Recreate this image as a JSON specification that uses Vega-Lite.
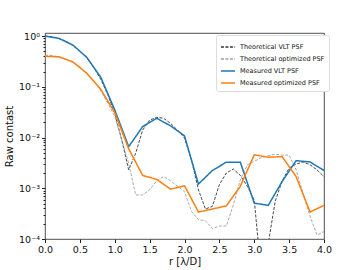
{
  "$schema": "https://vega.github.io/schema/vega-lite/v6.json",
  "width": 279,
  "height": 206,
  "autosize": {"type": "none"},
  "padding": {"left": 45, "top": 33, "right": 36, "bottom": 31},
  "background": "white",
  "config": {
    "font": "DejaVu Sans",
    "view": {"stroke": "#222", "strokeWidth": 0.8},
    "axis": {"grid": false, "domain": false, "tickColor": "#222", "labelColor": "#111", "titleColor": "#111", "labelFont": "DejaVu Sans", "titleFont": "DejaVu Sans", "titleFontWeight": "normal"}
  },
  "data": {"values": [
    {"s": "Theoretical VLT PSF", "r": 0.0, "c": 1.0},
    {"s": "Theoretical VLT PSF", "r": 0.1, "c": 0.97},
    {"s": "Theoretical VLT PSF", "r": 0.2, "c": 0.9},
    {"s": "Theoretical VLT PSF", "r": 0.3, "c": 0.79},
    {"s": "Theoretical VLT PSF", "r": 0.4, "c": 0.65},
    {"s": "Theoretical VLT PSF", "r": 0.5, "c": 0.51},
    {"s": "Theoretical VLT PSF", "r": 0.6, "c": 0.37},
    {"s": "Theoretical VLT PSF", "r": 0.7, "c": 0.24},
    {"s": "Theoretical VLT PSF", "r": 0.8, "c": 0.14},
    {"s": "Theoretical VLT PSF", "r": 0.9, "c": 0.07},
    {"s": "Theoretical VLT PSF", "r": 1.0, "c": 0.03},
    {"s": "Theoretical VLT PSF", "r": 1.1, "c": 0.009},
    {"s": "Theoretical VLT PSF", "r": 1.2, "c": 0.0023},
    {"s": "Theoretical VLT PSF", "r": 1.3, "c": 0.0049},
    {"s": "Theoretical VLT PSF", "r": 1.4, "c": 0.014},
    {"s": "Theoretical VLT PSF", "r": 1.5, "c": 0.022},
    {"s": "Theoretical VLT PSF", "r": 1.6, "c": 0.025},
    {"s": "Theoretical VLT PSF", "r": 1.7, "c": 0.024},
    {"s": "Theoretical VLT PSF", "r": 1.8, "c": 0.019},
    {"s": "Theoretical VLT PSF", "r": 1.9, "c": 0.014},
    {"s": "Theoretical VLT PSF", "r": 2.0, "c": 0.0098},
    {"s": "Theoretical VLT PSF", "r": 2.1, "c": 0.0036},
    {"s": "Theoretical VLT PSF", "r": 2.2, "c": 0.00093},
    {"s": "Theoretical VLT PSF", "r": 2.3, "c": 0.00039},
    {"s": "Theoretical VLT PSF", "r": 2.4, "c": 0.00044},
    {"s": "Theoretical VLT PSF", "r": 2.5, "c": 0.00118},
    {"s": "Theoretical VLT PSF", "r": 2.6, "c": 0.002},
    {"s": "Theoretical VLT PSF", "r": 2.7, "c": 0.0024},
    {"s": "Theoretical VLT PSF", "r": 2.8, "c": 0.0018},
    {"s": "Theoretical VLT PSF", "r": 2.9, "c": 0.0011},
    {"s": "Theoretical VLT PSF", "r": 3.0, "c": 0.00059},
    {"s": "Theoretical VLT PSF", "r": 3.1, "c": 0.00002},
    {"s": "Theoretical VLT PSF", "r": 3.2, "c": 0.00008},
    {"s": "Theoretical VLT PSF", "r": 3.3, "c": 0.00055},
    {"s": "Theoretical VLT PSF", "r": 3.4, "c": 0.0014},
    {"s": "Theoretical VLT PSF", "r": 3.5, "c": 0.0025},
    {"s": "Theoretical VLT PSF", "r": 3.6, "c": 0.003},
    {"s": "Theoretical VLT PSF", "r": 3.7, "c": 0.0033},
    {"s": "Theoretical VLT PSF", "r": 3.8, "c": 0.0029},
    {"s": "Theoretical VLT PSF", "r": 3.9, "c": 0.0023},
    {"s": "Theoretical VLT PSF", "r": 4.0, "c": 0.0017},
    {"s": "Theoretical optimized PSF", "r": 0.0, "c": 0.42},
    {"s": "Theoretical optimized PSF", "r": 0.1, "c": 0.415},
    {"s": "Theoretical optimized PSF", "r": 0.2, "c": 0.39},
    {"s": "Theoretical optimized PSF", "r": 0.3, "c": 0.35},
    {"s": "Theoretical optimized PSF", "r": 0.4, "c": 0.3},
    {"s": "Theoretical optimized PSF", "r": 0.5, "c": 0.245},
    {"s": "Theoretical optimized PSF", "r": 0.6, "c": 0.18},
    {"s": "Theoretical optimized PSF", "r": 0.7, "c": 0.13},
    {"s": "Theoretical optimized PSF", "r": 0.8, "c": 0.083},
    {"s": "Theoretical optimized PSF", "r": 0.9, "c": 0.048},
    {"s": "Theoretical optimized PSF", "r": 1.0, "c": 0.026},
    {"s": "Theoretical optimized PSF", "r": 1.1, "c": 0.009},
    {"s": "Theoretical optimized PSF", "r": 1.2, "c": 0.0031},
    {"s": "Theoretical optimized PSF", "r": 1.3, "c": 0.00074},
    {"s": "Theoretical optimized PSF", "r": 1.4, "c": 0.00074},
    {"s": "Theoretical optimized PSF", "r": 1.5, "c": 0.00093},
    {"s": "Theoretical optimized PSF", "r": 1.6, "c": 0.0014},
    {"s": "Theoretical optimized PSF", "r": 1.7, "c": 0.0017},
    {"s": "Theoretical optimized PSF", "r": 1.8, "c": 0.0014},
    {"s": "Theoretical optimized PSF", "r": 1.9, "c": 0.0011},
    {"s": "Theoretical optimized PSF", "r": 2.0, "c": 0.00086},
    {"s": "Theoretical optimized PSF", "r": 2.1, "c": 0.00035},
    {"s": "Theoretical optimized PSF", "r": 2.2, "c": 0.00024},
    {"s": "Theoretical optimized PSF", "r": 2.3, "c": 0.00023},
    {"s": "Theoretical optimized PSF", "r": 2.4, "c": 0.00016},
    {"s": "Theoretical optimized PSF", "r": 2.5, "c": 0.00018},
    {"s": "Theoretical optimized PSF", "r": 2.6, "c": 0.00018},
    {"s": "Theoretical optimized PSF", "r": 2.7, "c": 0.00047},
    {"s": "Theoretical optimized PSF", "r": 2.8, "c": 0.00146},
    {"s": "Theoretical optimized PSF", "r": 2.9, "c": 0.0029},
    {"s": "Theoretical optimized PSF", "r": 3.0, "c": 0.0034},
    {"s": "Theoretical optimized PSF", "r": 3.1, "c": 0.004},
    {"s": "Theoretical optimized PSF", "r": 3.2, "c": 0.0044},
    {"s": "Theoretical optimized PSF", "r": 3.3, "c": 0.0047},
    {"s": "Theoretical optimized PSF", "r": 3.4, "c": 0.0045},
    {"s": "Theoretical optimized PSF", "r": 3.5, "c": 0.0045},
    {"s": "Theoretical optimized PSF", "r": 3.6, "c": 0.0023},
    {"s": "Theoretical optimized PSF", "r": 3.7, "c": 0.00079},
    {"s": "Theoretical optimized PSF", "r": 3.8, "c": 0.00028},
    {"s": "Theoretical optimized PSF", "r": 3.9, "c": 0.00012},
    {"s": "Theoretical optimized PSF", "r": 4.0, "c": 0.00014},
    {"s": "Measured VLT PSF", "r": 0.0, "c": 1.0},
    {"s": "Measured VLT PSF", "r": 0.2, "c": 0.9},
    {"s": "Measured VLT PSF", "r": 0.4, "c": 0.665},
    {"s": "Measured VLT PSF", "r": 0.6, "c": 0.38},
    {"s": "Measured VLT PSF", "r": 0.8, "c": 0.154},
    {"s": "Measured VLT PSF", "r": 1.0, "c": 0.035},
    {"s": "Measured VLT PSF", "r": 1.2, "c": 0.0066},
    {"s": "Measured VLT PSF", "r": 1.4, "c": 0.0164},
    {"s": "Measured VLT PSF", "r": 1.6, "c": 0.024},
    {"s": "Measured VLT PSF", "r": 1.8, "c": 0.017},
    {"s": "Measured VLT PSF", "r": 2.0, "c": 0.0108},
    {"s": "Measured VLT PSF", "r": 2.2, "c": 0.00121},
    {"s": "Measured VLT PSF", "r": 2.4, "c": 0.00224},
    {"s": "Measured VLT PSF", "r": 2.6, "c": 0.00327},
    {"s": "Measured VLT PSF", "r": 2.8, "c": 0.00327},
    {"s": "Measured VLT PSF", "r": 3.0, "c": 0.00051},
    {"s": "Measured VLT PSF", "r": 3.2, "c": 0.00046},
    {"s": "Measured VLT PSF", "r": 3.4, "c": 0.00136},
    {"s": "Measured VLT PSF", "r": 3.6, "c": 0.0035},
    {"s": "Measured VLT PSF", "r": 3.8, "c": 0.0033},
    {"s": "Measured VLT PSF", "r": 4.0, "c": 0.00224},
    {"s": "Measured optimized PSF", "r": 0.0, "c": 0.4},
    {"s": "Measured optimized PSF", "r": 0.2, "c": 0.39},
    {"s": "Measured optimized PSF", "r": 0.4, "c": 0.31},
    {"s": "Measured optimized PSF", "r": 0.6, "c": 0.185},
    {"s": "Measured optimized PSF", "r": 0.8, "c": 0.089},
    {"s": "Measured optimized PSF", "r": 1.0, "c": 0.031},
    {"s": "Measured optimized PSF", "r": 1.2, "c": 0.006},
    {"s": "Measured optimized PSF", "r": 1.4, "c": 0.00179},
    {"s": "Measured optimized PSF", "r": 1.6, "c": 0.0015},
    {"s": "Measured optimized PSF", "r": 1.8, "c": 0.00096},
    {"s": "Measured optimized PSF", "r": 2.0, "c": 0.00112},
    {"s": "Measured optimized PSF", "r": 2.2, "c": 0.00034},
    {"s": "Measured optimized PSF", "r": 2.4, "c": 0.00039},
    {"s": "Measured optimized PSF", "r": 2.6, "c": 0.00045},
    {"s": "Measured optimized PSF", "r": 2.8, "c": 0.00109},
    {"s": "Measured optimized PSF", "r": 3.0, "c": 0.00456},
    {"s": "Measured optimized PSF", "r": 3.2, "c": 0.0041},
    {"s": "Measured optimized PSF", "r": 3.4, "c": 0.0042},
    {"s": "Measured optimized PSF", "r": 3.6, "c": 0.0017},
    {"s": "Measured optimized PSF", "r": 3.8, "c": 0.00034},
    {"s": "Measured optimized PSF", "r": 4.0, "c": 0.00046}
  ]},
  "encoding": {
    "x": {"field": "r", "type": "quantitative",
      "scale": {"domain": [0, 4], "nice": false, "zero": false},
      "axis": {"title": "r [λ/D]", "values": [0, 0.5, 1, 1.5, 2, 2.5, 3, 3.5, 4], "format": ".1f", "labelFontSize": 9.5, "titleFontSize": 10, "tickSize": 3.5, "labelPadding": 2, "titlePadding": 2, "labelFlush": false}},
    "y": {"field": "c", "type": "quantitative",
      "scale": {"type": "log", "domain": [0.0001, 1.15], "nice": false},
      "axis": {"title": "Raw contast", "titleFontSize": 10, "labelFontSize": 9.5, "titlePadding": 4, "labelPadding": 2,
        "values": [0.0001, 0.0002, 0.0003, 0.0004, 0.0005, 0.0006, 0.0007, 0.0008, 0.0009, 0.001, 0.002, 0.003, 0.004, 0.005, 0.006, 0.007, 0.008, 0.009, 0.01, 0.02, 0.03, 0.04, 0.05, 0.06, 0.07, 0.08, 0.09, 0.1, 0.2, 0.3, 0.4, 0.5, 0.6, 0.7, 0.8, 0.9, 1],
        "labelExpr": "datum.value == 1 ? '10⁰' : datum.value == 0.1 ? '10⁻¹' : datum.value == 0.01 ? '10⁻²' : datum.value == 0.001 ? '10⁻³' : datum.value == 0.0001 ? '10⁻⁴' : ''",
        "tickSize": {"condition": {"test": "indexof([1, 0.1, 0.01, 0.001, 0.0001], datum.value) >= 0", "value": 3.5}, "value": 2}}},
    "color": {"field": "s", "type": "nominal",
      "scale": {"domain": ["Theoretical VLT PSF", "Theoretical optimized PSF", "Measured VLT PSF", "Measured optimized PSF"], "range": ["#333333", "#a0a0a0", "#1f77b4", "#ff7f0e"]},
      "legend": {"title": null, "orient": "none", "legendX": 171, "legendY": 2, "symbolType": "stroke", "symbolSize": 200, "symbolStrokeWidth": 1.4, "labelFontSize": 6.5, "labelColor": "#111", "rowPadding": 0, "strokeColor": "#ddd", "fillColor": "white", "padding": 4, "cornerRadius": 2, "labelLimit": 200, "symbolOffset": 0}},
    "strokeDash": {"field": "s", "type": "nominal",
      "scale": {"domain": ["Theoretical VLT PSF", "Theoretical optimized PSF", "Measured VLT PSF", "Measured optimized PSF"], "range": [[3, 1.5], [3, 1.5], [1, 0], [1, 0]]},
      "legend": {"title": null}}
  },
  "layer": [
    {"transform": [{"filter": "indexof(datum.s, 'Theoretical') == 0"}], "mark": {"type": "line", "clip": true, "strokeWidth": 0.9}},
    {"transform": [{"filter": "indexof(datum.s, 'Measured') == 0"}], "mark": {"type": "line", "clip": true, "strokeWidth": 1.5}}
  ]
}
